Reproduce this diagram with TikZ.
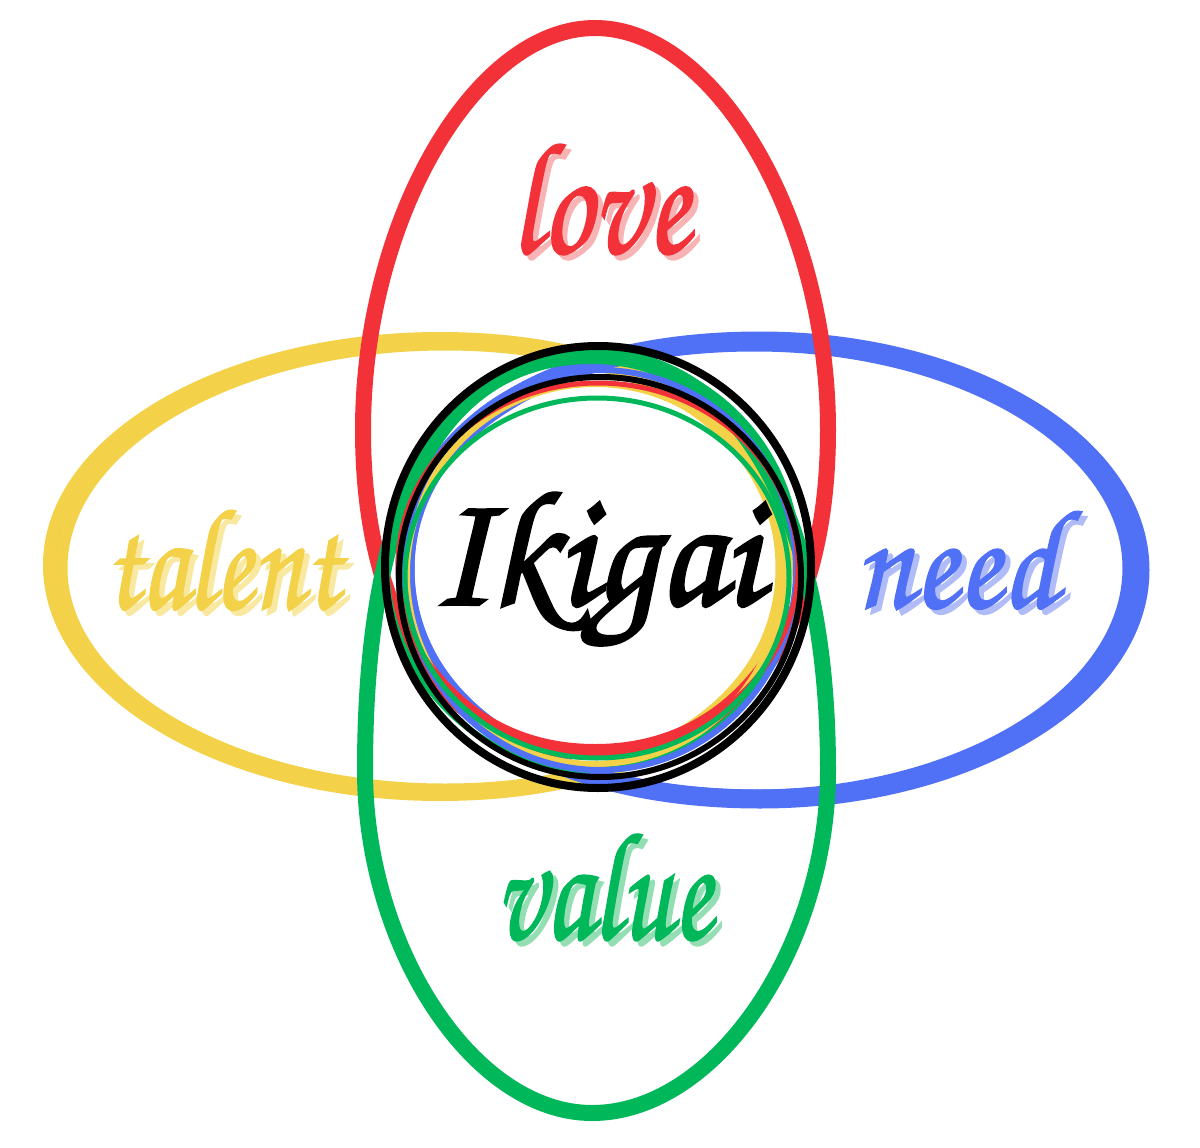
\documentclass[tikz,border=0pt]{standalone}
\usepackage[T1,TU]{fontenc}
\usepackage{graphicx}
\newcommand\chancery{\fontencoding{T1}\fontfamily{pzc}\fontseries{mb}\fontshape{it}\selectfont}
\newcommand\heavy[2]{\special{pdf:literal direct 2 Tr #1 w}#2\special{pdf:literal direct 0 Tr}}
\definecolor{cred}{HTML}{F23238}
\definecolor{cyel}{HTML}{F3D24A}
\definecolor{cblu}{HTML}{5070F5}
\definecolor{cgrn}{HTML}{00B85A}
\definecolor{sred}{HTML}{F8B4B4}
\definecolor{syel}{HTML}{F9E8A0}
\definecolor{sblu}{HTML}{B0BCF7}
\definecolor{sgrn}{HTML}{94DEB4}
% quadrant tensions
\def\kne{0.55}\def\kse{0.55}\def\ksw{0.55}\def\knw{0.55}
\newcommand\setk[4]{\def\kne{#1}\def\kse{#2}\def\ksw{#3}\def\knw{#4}}
% cx, cy, top, bottom, left, right
\newcommand\eggpath[6]{(#1,#3) .. controls ({#1+\kne*(#6-#1)},#3) and (#6,{#2-\kne*(#2-#3)}) .. (#6,#2)
 .. controls (#6,{#2+\kse*(#4-#2)}) and ({#1+\kse*(#6-#1)},#4) .. (#1,#4)
 .. controls ({#1-\ksw*(#1-#5)},#4) and (#5,{#2+\ksw*(#4-#2)}) .. (#5,#2)
 .. controls (#5,{#2-\knw*(#2-#3)}) and ({#1-\knw*(#1-#5)},#3) .. cycle}
% script word: width, height, text
\newcommand\scriptword[3]{\resizebox*{#1}{#2}{\heavy{0.12}{\chancery #3}}}
\begin{document}
\begin{tikzpicture}[x=1pt,y=-1pt,
  ring/.style={line width=#1},
  word/.style={inner sep=0pt,outer sep=0pt}]
\useasboundingbox (0,0) rectangle (1200,1148);
\fill[white] (0,0) rectangle (1200,1148);
% yellow loop
\setk{0.6}{0.6}{0.55}{0.55}
\draw[cyel,ring=16] \eggpath{440}{565}{340}{793}{51}{785};
\draw[cyel,ring=9] \eggpath{445}{568}{346}{788}{63}{780};
% blue loop
\setk{0.55}{0.55}{0.6}{0.6}
\draw[cblu,ring=19] \eggpath{760}{570}{341}{799}{405}{1140};
\draw[cblu,ring=9] \eggpath{755}{568}{347}{794}{410}{1127};
% red loop
\setk{0.52}{0.62}{0.62}{0.52}
\draw[cred,ring=16] \eggpath{595}{430}{28}{752}{363}{828};
% green loop
\setk{0.62}{0.52}{0.52}{0.66}
\draw[cgrn,ring=16] \eggpath{592}{770}{356}{1113}{365}{828};
% inner scribbles
\draw[cgrn,ring=6] (592,562) ellipse [x radius=206, y radius=208];
\draw[cyel,ring=6] (595,574) ellipse [x radius=188, y radius=190];
\draw[cblu,ring=6] (600,570) ellipse [x radius=196, y radius=200];
\draw[cred,ring=5] (598,566) ellipse [x radius=200, y radius=183];
\draw[cgrn,ring=5] (597,578) ellipse [x radius=192, y radius=180];
\draw[black,ring=8] (598,567) ellipse [x radius=213, y radius=221];
\draw[black,ring=6] (600,577) ellipse [x radius=201, y radius=200];
% word shadows
\node[word,text=sred] (loveshadow) at (605,202) {\scriptword{178pt}{116pt}{love}};
\node[word,text=syel] (talentshadow) at (227,563) {\scriptword{235pt}{105pt}{talent}};
\node[word,text=sblu] (needshadow) at (961,563) {\scriptword{203pt}{103pt}{need}};
\node[word,text=sgrn] (valueshadow) at (608,890) {\scriptword{217pt}{112pt}{value}};
% words
\node[word,text=cred] (love) at (600,197) {\scriptword{178pt}{116pt}{love}};
\node[word,text=cyel] (talent) at (222,558) {\scriptword{235pt}{105pt}{talent}};
\node[word,text=cblu] (need) at (956,558) {\scriptword{203pt}{103pt}{need}};
\node[word,text=cgrn] (value) at (603,885) {\scriptword{217pt}{112pt}{value}};
\node[word,text=black] (ikigai) at (595,571) {\resizebox*{330pt}{168pt}{\heavy{0.2}{\chancery Ikigai}}};
\end{tikzpicture}
\end{document}
